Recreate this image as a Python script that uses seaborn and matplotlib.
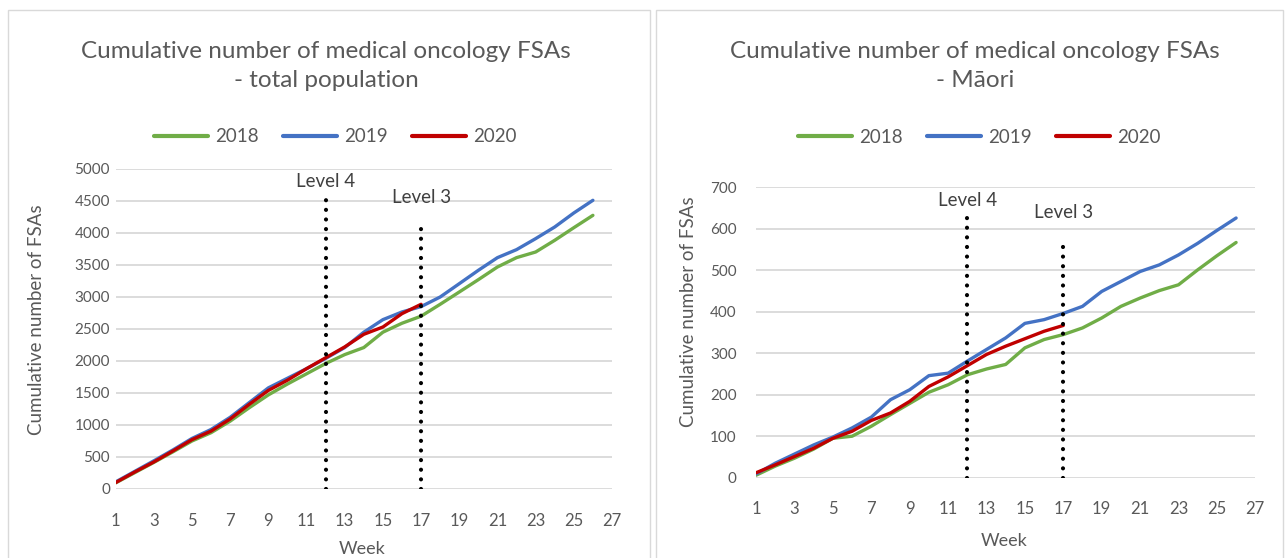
import numpy as np
import pandas as pd
import matplotlib
matplotlib.use("Agg")
import matplotlib.pyplot as plt
from matplotlib.patches import Rectangle
import seaborn as sns

# ---------------- data ----------------
weeks = list(range(1, 27))
years = ["2018", "2019", "2020"]

total_2018 = [95, 255, 415, 580, 750, 880, 1060, 1270, 1470, 1640, 1800, 1960, 2100, 2210, 2450, 2590, 2700, 2886, 3078, 3271, 3469, 3615, 3703, 3886, 4083, 4276]
total_2019 = [110, 275, 440, 610, 790, 930, 1120, 1350, 1580, 1730, 1880, 2040, 2210, 2450, 2646, 2766, 2850, 3000, 3208, 3417, 3615, 3740, 3912, 4094, 4313, 4511]
total_2020 = [100, 265, 422, 594, 771, 905, 1094, 1323, 1540, 1700, 1880, 2050, 2220, 2417, 2531, 2740, 2886]

maori_2018 = [6, 28, 47, 69, 95, 100, 124, 152, 179, 206, 224, 248, 262, 273, 313, 333, 345, 361, 385, 413, 433, 451, 465, 501, 535, 567]
maori_2019 = [9, 35, 57, 79, 98, 120, 146, 188, 212, 246, 252, 281, 309, 337, 372, 381, 396, 413, 449, 473, 497, 513, 537, 565, 596, 626]
maori_2020 = [12, 31, 51, 71, 95, 112, 138, 156, 184, 220, 243, 270, 297, 317, 335, 353, 367]

level_names = ["Level 4", "Level 3"]
level_weeks = [12, 17]
level_tops_total = [4540, 4070]
level_tops_maori = [628, 558]
level_label_y_total = [4800, 4560]
level_label_y_maori = [668, 639]

x_ticks = list(range(1, 28, 2))
y_ticks_total = list(range(0, 5001, 500))
y_ticks_maori = list(range(0, 701, 100))

titles = ["Cumulative number of medical oncology FSAs\n- total population",
          "Cumulative number of medical oncology FSAs\n- M\u0101ori"]
ylabel = "Cumulative number of FSAs"
xlabel = "Week"

colors = {"2018": "#70AD47", "2019": "#4472C4", "2020": "#C00000"}


def long_df(s18, s19, s20):
    rows = []
    for yr, s in zip(years, [s18, s19, s20]):
        for w, v in zip(weeks, s):
            rows.append({"Week": w, "Value": v, "Year": yr})
    return pd.DataFrame(rows)


df_total = long_df(total_2018, total_2019, total_2020)
df_maori = long_df(maori_2018, maori_2019, maori_2020)

# ---------------- style ----------------
sns.set_theme(style="white")
FONT = ["Lato", "DejaVu Sans"]
plt.rcParams["font.family"] = FONT
TXT = "#595959"

W, H = 1285, 558
fig = plt.figure(figsize=(W / 100, H / 100), dpi=100)

# chart-area borders
for (x0, x1) in [(8, 650), (656, 1283)]:
    fig.add_artist(Rectangle((x0 / W, -0.05), (x1 - x0) / W, (H - 10) / H + 0.05,
                             transform=fig.transFigure, fill=False,
                             edgecolor="#D9D9D9", linewidth=1.0))


def px_axes(left, right, top, bottom):
    return fig.add_axes([left / W, (H - bottom) / H, (right - left) / W, (bottom - top) / H])


ax1 = px_axes(115.6, 612, 169, 489)
ax2 = px_axes(756.1, 1255.3, 187.3, 477.7)

configs = [
    (ax1, df_total, y_ticks_total, level_tops_total, level_label_y_total, titles[0], 326,
     (0.442, 1.10), 4, 0.528, -0.142, -0.163),
    (ax2, df_maori, y_ticks_maori, level_tops_maori, level_label_y_maori, titles[1], 975,
     (0.4465, 1.173), 14, 0.57, -0.118, -0.192),
]

for (ax, df, yt, tops, laby, title, tx, legpos, ypad, ylab_y, ylab_x, xlab_y) in configs:
    sns.lineplot(data=df, x="Week", y="Value", hue="Year", palette=colors,
                 linewidth=2.4, ax=ax, legend=True)
    for wk, top, ly, name in zip(level_weeks, tops, laby, level_names):
        ax.plot([wk, wk], [0, top], color="black", linewidth=3.0,
                linestyle=(0, (0.01, 2.3)), dash_capstyle="round", zorder=4)
        ax.text(wk, ly, name, ha="center", va="center", fontsize=13.5, color="#404040")
    ax.set_xlim(1, 27)
    ax.set_ylim(yt[0], yt[-1])
    ax.set_xticks(x_ticks)
    ax.set_yticks(yt)
    ax.grid(axis="y", color="#D9D9D9", linewidth=1.3)
    ax.grid(axis="x", visible=False)
    ax.set_axisbelow(True)
    for s in ax.spines.values():
        s.set_visible(False)
    ax.tick_params(axis="x", length=0, pad=17, labelsize=12, labelcolor=TXT)
    ax.tick_params(axis="y", length=0, pad=ypad, labelsize=11, labelcolor=TXT)
    ax.set_xlabel(xlabel, fontsize=13, color=TXT)
    ax.set_ylabel(ylabel, fontsize=13.5, color=TXT)
    ax.xaxis.set_label_coords(0.496, xlab_y)
    ax.yaxis.set_label_coords(ylab_x, ylab_y)
    leg = ax.legend(loc="center", bbox_to_anchor=legpos, ncol=3, frameon=False,
                    fontsize=13.5, handlelength=2.9, handletextpad=0.35,
                    columnspacing=1.3, borderaxespad=0)
    for t in leg.get_texts():
        t.set_color(TXT)
    for h in leg.get_lines():
        h.set_linewidth(3)
    fig.text(tx / W, 1 - 66 / H, title, ha="center", va="center", fontsize=17.5,
             color=TXT, linespacing=1.5)

fig.savefig("out.png", dpi=100)
